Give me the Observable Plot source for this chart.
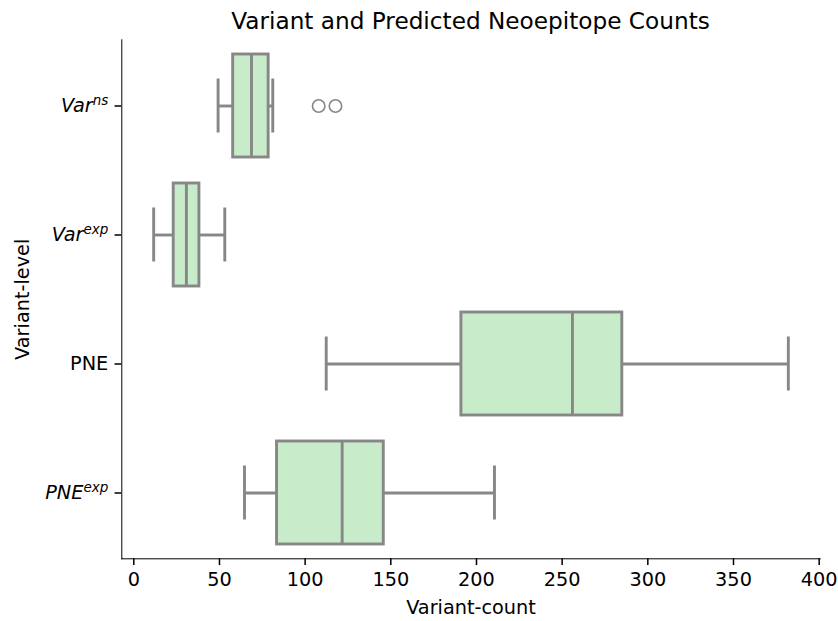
<!DOCTYPE html>
<html>
<head>
<meta charset="utf-8">
<script src="https://cdn.jsdelivr.net/npm/d3@7"></script>
<script src="https://cdn.jsdelivr.net/npm/@observablehq/plot@0.6"></script>
<style>
  body { margin: 0; background: #fff; font-family: "DejaVu Sans", sans-serif; }
  #title { box-sizing: border-box; width: 838px; height: 37px; padding: 5px 18.3px 0 121.3px;
           line-height: 32px; font-size: 23.2px; text-align: center; color: #000; white-space: nowrap; }
  #chart g[aria-label^="x-axis"] path, #chart g[aria-label^="y-axis"] path,
  #chart g[aria-label^="x-axis"] line, #chart g[aria-label^="y-axis"] line { stroke-width: 1.5px; }
</style>
</head>
<body>
<div id="title">Variant and Predicted Neoepitope Counts</div>
<div id="chart"></div>
<script>
// ---- data ----
const categories  = ["Var^ns", "Var^exp", "PNE", "PNE^exp"];
const whiskerLow  = [49.2, 11.6, 112.3, 64.6];
const quartile1   = [58.0, 23.3, 191.2, 83.6];
const median      = [68.7, 30.7, 256.0, 121.6];
const quartile3   = [78.7, 38.3, 285.1, 145.9];
const whiskerHigh = [81.1, 53.1, 382.0, 210.5];
const outlierCategory = ["Var^ns", "Var^ns"];
const outlierValue    = [107.9, 117.7];
const xTicks = [0, 50, 100, 150, 200, 250, 300, 350, 400];
const xLabel = "Variant-count";
const yLabel = "Variant-level";

const boxes = categories.map((c, i) => ({
  category: c, lo: whiskerLow[i], q1: quartile1[i], med: median[i], q3: quartile3[i], hi: whiskerHigh[i]
}));
const outliers = outlierCategory.map((c, i) => ({category: c, value: outlierValue[i]}));
const caps = boxes.flatMap(b => [{category: b.category, value: b.lo}, {category: b.category, value: b.hi}]);

const gray = "#878787";
const fill = "#c8ebca";
const lw = 2.9;

const chart = Plot.plot({
  width: 838,
  height: 584,
  marginTop: 2.3,
  marginBottom: 62.7,
  marginLeft: 121.3,
  marginRight: 18.3,
  style: {fontFamily: "DejaVu Sans", fontSize: "19.3px", background: "white", color: "black", overflow: "visible"},
  x: {domain: [-7, 400.6], ticks: xTicks, tickSize: 6.76, tickPadding: 6.76, label: null, line: true},
  y: {domain: categories, paddingInner: 0.2, paddingOuter: 0.1, align: 0.5, tickSize: 6.76, tickPadding: 6.76, label: null, line: true},
  marks: [
    Plot.ruleY(boxes, {y: "category", x1: "lo", x2: "q1", stroke: gray, strokeWidth: lw}),
    Plot.ruleY(boxes, {y: "category", x1: "q3", x2: "hi", stroke: gray, strokeWidth: lw}),
    Plot.barX(boxes, {y: "category", x1: "q1", x2: "q3", fill: fill, stroke: gray, strokeWidth: lw}),
    Plot.tickX(boxes, {y: "category", x: "med", stroke: gray, strokeWidth: lw}),
    Plot.tickX(caps, {y: "category", x: "value", stroke: gray, strokeWidth: lw, insetTop: 24.5, insetBottom: 24.5}),
    Plot.dot(outliers, {y: "category", x: "value", r: 6.2, stroke: gray, strokeWidth: 1.6, fill: "none"}),
    Plot.text([xLabel], {frameAnchor: "bottom", text: d => d, dy: 48.7, lineAnchor: "middle", fontSize: 19.3}),
    Plot.text([yLabel], {frameAnchor: "left", text: d => d, dx: -99.3, rotate: -90, lineAnchor: "middle", textAnchor: "middle", fontSize: 19.3})
  ]
});

// mathtext-like tick labels: italic with superscript
const NS = "http://www.w3.org/2000/svg";
chart.querySelectorAll("text").forEach(t => {
  const s = t.textContent;
  if (!categories.includes(s) || !s.includes("^")) return;
  const [base, sup] = s.split("^");
  while (t.firstChild) t.removeChild(t.firstChild);
  const b = document.createElementNS(NS, "tspan");
  b.setAttribute("font-style", "italic");
  b.textContent = base;
  const p = document.createElementNS(NS, "tspan");
  p.setAttribute("font-style", "italic");
  p.setAttribute("font-size", "13.5px");
  p.setAttribute("dy", "-7.2");
  p.textContent = sup;
  t.appendChild(b);
  t.appendChild(p);
});

document.getElementById("chart").appendChild(chart);
</script>
</body>
</html>
